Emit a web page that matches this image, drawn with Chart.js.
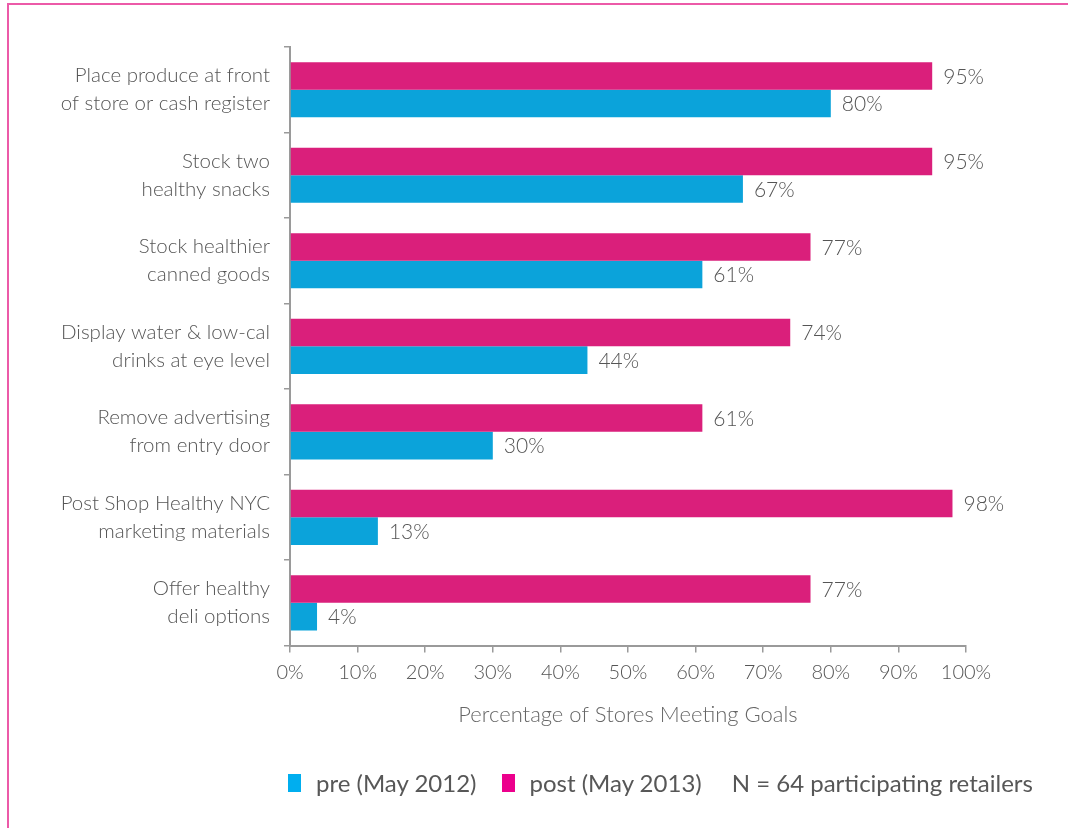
<!DOCTYPE html>
<html>
<head>
<meta charset="utf-8">
<script src="https://cdn.jsdelivr.net/npm/chart.js@4/dist/chart.umd.min.js"></script>
<style>
  html, body { margin: 0; padding: 0; background: #fff; }
  #wrap { position: relative; width: 1068px; height: 828px; overflow: hidden; }
  #frame { position: absolute; left: 7px; top: 3px; width: 1100px; height: 900px;
           border-top: 2px solid #ec5aa8; border-left: 2px solid #ec5aa8; }
  canvas { position: absolute; left: 0; top: 0; }
  #legend { position: absolute; left: 288px; top: 768px; display: flex; align-items: center;
            font-family: Lato, sans-serif; font-size: 24px; color: #575757; white-space: nowrap; }
  #legend .box { display: inline-block; width: 13px; height: 18px; margin-right: 15px; }
  #legend .item { display: flex; align-items: center; margin-right: 25px; }
</style>
</head>
<body>
<div id="wrap">
  <div id="frame"></div>
  <canvas id="c" width="1068" height="828"></canvas>
  <div id="legend"></div>
</div>
<script>
const categories = [
  ["Place produce at front", "of store or cash register"],
  ["Stock two", "healthy snacks"],
  ["Stock healthier", "canned goods"],
  ["Display water & low-cal", "drinks at eye level"],
  ["Remove advertising", "from entry door"],
  ["Post Shop Healthy NYC", "marketing materials"],
  ["Offer healthy", "deli options"]
];
const preValues = [80, 67, 61, 44, 30, 13, 4];
const postValues = [95, 95, 77, 74, 61, 98, 77];
const seriesLabels = ["pre (May 2012)", "post (May 2013)"];
const noteText = "N = 64 participating retailers";
const xTicks = [0, 10, 20, 30, 40, 50, 60, 70, 80, 90, 100];
const axisTitle = "Percentage of Stores Meeting Goals";

const PINK = "#da1f7b", BLUE = "#0ba3da";
const LEG_PINK = "#ec008c", LEG_BLUE = "#00aeef";
const AXIS = "#9a9a9a";

const valueLabels = {
  id: "valueLabels",
  afterDatasetsDraw(chart) {
    const ctx = chart.ctx;
    ctx.save();
    ctx.font = "300 21px Lato";
    ctx.fillStyle = "#555";
    ctx.textBaseline = "middle";
    ctx.textAlign = "left";
    chart.data.datasets.forEach((ds, i) => {
      chart.getDatasetMeta(i).data.forEach((bar, j) => {
        ctx.fillText(ds.data[j] + "%", bar.x + 11, bar.y + 1);
      });
    });
    ctx.restore();
  }
};

new Chart(document.getElementById("c"), {
  type: "bar",
  data: {
    labels: categories,
    datasets: [
      { label: seriesLabels[1], data: postValues, backgroundColor: PINK,
        barPercentage: 1.0, categoryPercentage: 0.645 },
      { label: seriesLabels[0], data: preValues, backgroundColor: BLUE,
        barPercentage: 1.0, categoryPercentage: 0.645 }
    ]
  },
  options: {
    indexAxis: "y",
    responsive: false,
    animation: false,
    layout: { padding: { top: 47, right: 102, left: 0, bottom: 96 } },
    plugins: { legend: { display: false }, tooltip: { enabled: false } },
    scales: {
      x: {
        min: 0, max: 100,
        afterBuildTicks(scale) { scale.ticks = xTicks.map(v => ({ value: v })); },
        ticks: { callback: v => v + "%", color: "#555", padding: 8,
                 font: { family: "Lato", size: 20, weight: 300 } },
        grid: { drawOnChartArea: false, drawTicks: true, tickLength: 7, color: AXIS, lineWidth: 1.5 },
        border: { display: true, color: AXIS, width: 2 },
        title: { display: true, text: axisTitle, color: "#666",
                 font: { family: "Lato", size: 22, weight: 300 }, padding: { top: 9, bottom: 4 } }
      },
      y: {
        afterFit(scale) { scale.width = 290; },
        ticks: { color: "#555", padding: 14,
                 font: { family: "Lato", size: 20.5, weight: 300, lineHeight: 1.37 } },
        grid: { drawOnChartArea: false, drawTicks: true, tickLength: 6, color: AXIS, lineWidth: 1.5, offset: true },
        border: { display: true, color: AXIS, width: 2 }
      }
    }
  },
  plugins: [valueLabels]
});

const legendEl = document.getElementById("legend");
[[seriesLabels[0], LEG_BLUE], [seriesLabels[1], LEG_PINK]].forEach(([t, c]) => {
  const it = document.createElement("span");
  it.className = "item";
  const b = document.createElement("span");
  b.className = "box"; b.style.background = c;
  it.appendChild(b);
  it.appendChild(document.createTextNode(t));
  legendEl.appendChild(it);
});
const note = document.createElement("span");
note.textContent = noteText;
note.style.marginLeft = "5px";
legendEl.appendChild(note);
</script>
</body>
</html>
